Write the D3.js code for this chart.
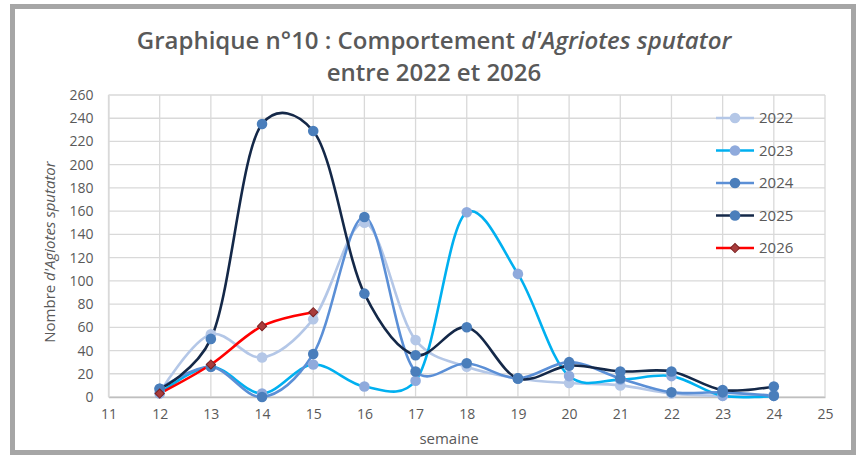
<!DOCTYPE html>
<html>
<head>
<meta charset="utf-8">
<script src="https://cdn.jsdelivr.net/npm/d3@7"></script>
<style>
  body { margin: 0; background: #fff; }
  text { font-family: "Open Sans", sans-serif; }
</style>
</head>
<body>
<div id="chart"></div>
<script>
// data
var weeks = [12, 13, 14, 15, 16, 17, 18, 19, 20, 21, 22, 23, 24];
var weeks2026 = [12, 13, 14, 15];
var v2022 = [4, 54, 34, 67, 150, 49, 26, 16, 12, 10, 3, 1, 2];
var v2023 = [3, 26, 3, 28, 9, 14, 159, 106, 18, 15, 18, 1, 1];
var v2024 = [7, 26, 0, 37, 155, 22, 29, 16, 30, 16, 4, 4, 1];
var v2025 = [7, 50, 235, 229, 89, 36, 60, 16, 27, 22, 22, 6, 9];
var v2026 = [3, 28, 61, 73];
var yTicks = [0, 20, 40, 60, 80, 100, 120, 140, 160, 180, 200, 220, 240, 260];
var xTicks = [11, 12, 13, 14, 15, 16, 17, 18, 19, 20, 21, 22, 23, 24, 25];

var svgWidth = 858;
var svgHeight = 455;

var series = [
  { name: "2022", x: weeks, y: v2022, line: "#b4c7e7", mark: "#b4c7e7", shape: "circle" },
  { name: "2023", x: weeks, y: v2023, line: "#00b0f0", mark: "#8faadc", shape: "circle" },
  { name: "2024", x: weeks, y: v2024, line: "#5b8fd6", mark: "#4a7ebb", shape: "circle" },
  { name: "2025", x: weeks, y: v2025, line: "#142848", mark: "#4a7ebb", shape: "circle" },
  { name: "2026", x: weeks2026, y: v2026, line: "#ff0000", mark: "#a93c3c", shape: "diamond" }
];

var svg = d3.select("#chart")
  .append("svg")
  .attr("width", svgWidth)
  .attr("height", svgHeight);

// outer frame
svg.append("rect")
  .attr("x", 12.5).attr("y", 6.5)
  .attr("width", 841).attr("height", 446)
  .attr("fill", "#fff")
  .attr("stroke", "#a6a6a6")
  .attr("stroke-width", 5);

var xScale = d3.scaleLinear().domain([11, 25]).range([108.5, 825]);
var yScale = d3.scaleLinear().domain([0, 260]).range([397, 95]);

// grid
var grid = svg.append("g");
grid.selectAll("line.h")
  .data(yTicks)
  .enter()
  .append("line")
  .attr("x1", xScale(11)).attr("x2", xScale(25))
  .attr("y1", d => yScale(d)).attr("y2", d => yScale(d))
  .attr("stroke", "#d9d9d9").attr("stroke-width", 1.3);

grid.selectAll("line.v")
  .data(xTicks)
  .enter()
  .append("line")
  .attr("x1", d => xScale(d)).attr("x2", d => xScale(d))
  .attr("y1", yScale(0)).attr("y2", yScale(260))
  .attr("stroke", "#d9d9d9").attr("stroke-width", 1.3);

// axes
var xAxis = d3.axisBottom(xScale).tickValues(xTicks).tickSize(0).tickPadding(12);
var yAxis = d3.axisLeft(yScale).tickValues(yTicks).tickSize(0).tickPadding(15);

var gx = svg.append("g")
  .attr("transform", `translate(0, ${yScale(0)})`)
  .call(xAxis);
var gy = svg.append("g")
  .attr("transform", `translate(${xScale(11)}, 0)`)
  .call(yAxis);

[gx, gy].forEach(function(g) {
  g.select(".domain").attr("stroke", "#bfbfbf").attr("stroke-width", 1.3);
  g.selectAll("text")
    .attr("fill", "#595959")
    .attr("font-size", "14px")
    .style("font-family", "'Open Sans', sans-serif");
});
gy.select(".domain").attr("stroke", "#d9d9d9");

// lines (smoothed like the spreadsheet)
var line = d3.line()
  .x(d => xScale(d[0]))
  .y(d => yScale(d[1]))
  .curve(d3.curveCatmullRom.alpha(0.25));

series.forEach(function(s) {
  var pts = s.x.map((w, i) => [w, s.y[i]]);
  svg.append("path")
    .datum(pts)
    .attr("fill", "none")
    .attr("stroke", s.line)
    .attr("stroke-width", 2.6)
    .attr("d", line);
});

// markers
var diamond = d3.symbol().type(d3.symbolSquare).size(42);
series.forEach(function(s) {
  var pts = s.x.map((w, i) => [w, s.y[i]]);
  if (s.shape === "circle") {
    svg.append("g").selectAll("circle")
      .data(pts)
      .enter()
      .append("circle")
      .attr("cx", d => xScale(d[0]))
      .attr("cy", d => yScale(d[1]))
      .attr("r", 5.3)
      .attr("fill", s.mark);
  } else {
    svg.append("g").selectAll("path")
      .data(pts)
      .enter()
      .append("path")
      .attr("transform", d => `translate(${xScale(d[0])}, ${yScale(d[1])}) rotate(45)`)
      .attr("d", diamond)
      .attr("fill", s.mark)
      .attr("stroke", "#7b2020")
      .attr("stroke-width", 1);
  }
});

// legend
var legend = svg.append("g").attr("transform", "translate(716, 118)");
series.forEach(function(s, i) {
  var g = legend.append("g").attr("transform", `translate(0, ${i * 32.5})`);
  g.append("line")
    .attr("x1", 0).attr("x2", 38)
    .attr("stroke", s.line).attr("stroke-width", 2.6);
  if (s.shape === "circle") {
    g.append("circle").attr("cx", 19).attr("r", 5.3).attr("fill", s.mark);
  } else {
    g.append("path").attr("transform", "translate(19,0) rotate(45)")
      .attr("d", diamond).attr("fill", s.mark)
      .attr("stroke", "#7b2020").attr("stroke-width", 1);
  }
  g.append("text")
    .attr("x", 43).attr("y", 5)
    .attr("fill", "#595959")
    .attr("font-size", "15px")
    .text(s.name);
});

// title
var title = svg.append("text")
  .attr("x", 434).attr("y", 49)
  .attr("text-anchor", "middle")
  .attr("font-size", "24px")
  .attr("font-weight", "600")
  .attr("fill", "#595959");
title.append("tspan").text("Graphique n°10 : Comportement ");
title.append("tspan").attr("font-style", "italic").text("d'Agriotes sputator");

svg.append("text")
  .attr("x", 434).attr("y", 81)
  .attr("text-anchor", "middle")
  .attr("font-size", "24px")
  .attr("font-weight", "600")
  .attr("fill", "#595959")
  .text("entre 2022 et 2026");

// axis titles
svg.append("text")
  .attr("x", 449).attr("y", 444)
  .attr("text-anchor", "middle")
  .attr("font-size", "15px")
  .attr("fill", "#595959")
  .text("semaine");

var yTitle = svg.append("text")
  .attr("transform", "translate(55, 252) rotate(-90)")
  .attr("text-anchor", "middle")
  .attr("font-size", "15px")
  .attr("fill", "#595959");
yTitle.append("tspan").text("Nombre ");
yTitle.append("tspan").attr("font-style", "italic").text("d'Agiotes sputator");
</script>
</body>
</html>
